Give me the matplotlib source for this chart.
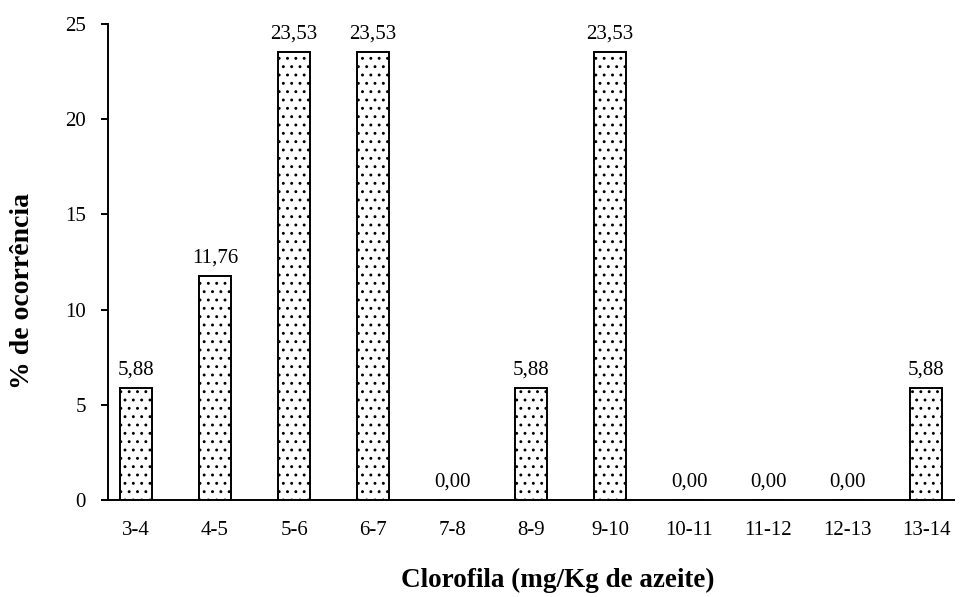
import matplotlib.pyplot as plt
import numpy as np

plt.rcParams['font.family'] = ['Liberation Serif', 'DejaVu Serif']
plt.rcParams['hatch.color'] = '#9a9a9a'
plt.rcParams['hatch.linewidth'] = 0.9

categories = ['3-4', '4-5', '5-6', '6-7', '7-8', '8-9', '9-10', '10-11', '11-12', '12-13', '13-14']
values = [5.88, 11.76, 23.53, 23.53, 0.00, 5.88, 23.53, 0.00, 0.00, 0.00, 5.88]

fig = plt.figure(figsize=(9.64, 5.97), dpi=100)
ax = fig.add_axes([0.112, 0.1625, 0.878, 0.7973])

x = np.arange(len(categories))
bars = ax.bar(x, values, 0.4, color='white', edgecolor='black', linewidth=1.4, hatch='..')

# value labels with comma decimals
for xi, v in zip(x, values):
    ax.annotate(f'{v:.2f}'.replace('.', ','), (xi, v), xytext=(0, 6), textcoords='offset points',
                ha='center', va='bottom', fontsize=15)

ax.set_xlim(-0.355, len(categories) - 1 + 0.355)
ax.set_ylim(0, 25)
ax.set_yticks([0, 5, 10, 15, 20, 25])
ax.set_xticks(x)
ax.set_xticklabels(categories)
ax.tick_params(axis='x', length=0, pad=15, labelsize=15)
ax.tick_params(axis='y', direction='out', length=5, width=1.4, pad=11, labelsize=15)

for side in ['top', 'right']:
    ax.spines[side].set_visible(False)
for side in ['left', 'bottom']:
    ax.spines[side].set_linewidth(1.4)

ax.set_xlabel('Clorofila (mg/Kg de azeite)', fontsize=19.5, fontweight='bold')
ax.xaxis.set_label_coords(0.532, -0.143)
ax.set_ylabel('% de ocorrência', fontsize=20, fontweight='bold')
ax.yaxis.set_label_coords(-0.086, 0.44)

fig.savefig('out.png', dpi=100)
